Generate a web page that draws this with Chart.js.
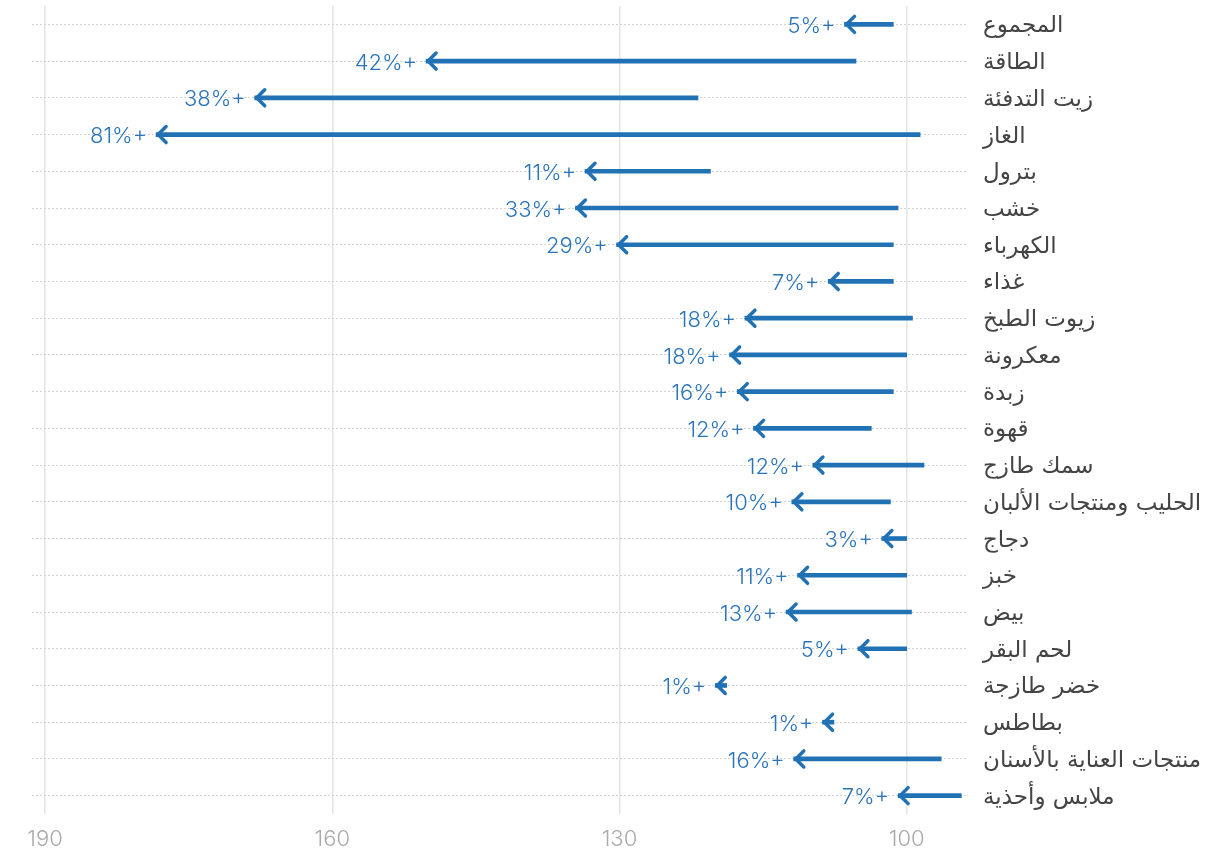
<!DOCTYPE html>
<html>
<head>
<meta charset="utf-8">
<script src="https://cdn.jsdelivr.net/npm/chart.js@4/dist/chart.umd.min.js"></script>
<style>
  html, body { margin: 0; padding: 0; background: #fff; }
  #wrap { width: 1220px; height: 860px; position: relative; }
</style>
</head>
<body>
<div id="wrap"><canvas id="priceChart"></canvas></div>
<script>
// Categories & index values (start -> end)
var categories = [
  'المجموع', 'الطاقة', 'زيت التدفئة', 'الغاز', 'بترول', 'خشب', 'الكهرباء',
  'غذاء', 'زيوت الطبخ', 'معكرونة', 'زبدة', 'قهوة', 'سمك طازج',
  'الحليب ومنتجات الألبان', 'دجاج', 'خبز', 'بيض', 'لحم البقر', 'خضر طازجة',
  'بطاطس', 'منتجات العناية بالأسنان', 'ملابس وأحذية'
];
var startValues = [101.4, 105.3, 121.8, 98.6, 120.5, 100.9, 101.4, 101.4, 99.4, 100, 101.4,
  103.7, 98.2, 101.7, 100, 100, 99.5, 100, 118.8, 107.6, 96.4, 94.3];
var endValues = [106.5, 150.2, 168.1, 178.4, 133.6, 134.6, 130.3, 108.2, 116.9, 118.5, 117.7,
  116.0, 109.8, 112.0, 102.6, 111.4, 112.6, 105.1, 120.0, 108.8, 111.8, 100.9];
var pctLabels = [5, 42, 38, 81, 11, 33, 29, 7, 18, 18, 16, 12, 12, 10, 3, 11, 13, 5, 1, 1, 16, 7];
var xTicks = [190, 160, 130, 100];

var blue = '#2171b5';

// arrow heads + percent labels
var arrowPlugin = {
  id: 'arrows',
  afterDatasetsDraw: function (chart) {
    var ctx = chart.ctx;
    var xs = chart.scales.x;
    var ys = chart.scales.y;
    ctx.save();
    ctx.strokeStyle = blue;
    ctx.lineWidth = 3.5;
    ctx.lineCap = 'round';
    ctx.lineJoin = 'miter';
    categories.forEach(function (c, i) {
      var tip = xs.getPixelForValue(endValues[i]);
      var yc = ys.getPixelForValue(i);
      ctx.beginPath();
      ctx.moveTo(tip + 10, yc - 8);
      ctx.lineTo(tip + 2, yc);
      ctx.lineTo(tip + 10, yc + 8);
      ctx.stroke();

      ctx.fillStyle = '#2a74ba';
      ctx.font = '300 22px Inter, "DejaVu Sans", sans-serif';
      ctx.textAlign = 'right';
      ctx.textBaseline = 'middle';
      ctx.fillText(pctLabels[i] + '%+', tip - 9, yc + 2);
    });
    ctx.restore();
  }
};

var chart = new Chart(document.getElementById('priceChart'), {
  type: 'bar',
  data: {
    labels: categories,
    datasets: [
      {
        data: categories.map(function (c, i) { return [startValues[i], endValues[i]]; }),
        backgroundColor: blue,
        barThickness: 4,
        borderWidth: 0,
        borderSkipped: false,
      },
    ],
  },
  options: {
    indexAxis: 'y',
    responsive: true,
    maintainAspectRatio: false,
    animation: false,
    layout: { padding: { left: 32, top: 6, right: 0, bottom: 0 } },
    plugins: {
      legend: { display: false },
      tooltip: { enabled: false },
    },
    scales: {
      x: {
        reverse: true,
        min: 93.6,
        max: 191.36,
        afterBuildTicks: function (axis) {
          axis.ticks = xTicks.map(function (v) { return { value: v }; });
        },
        afterFit: function (axis) {
          axis.height = 46;
          axis.paddingLeft = 0;
          axis.paddingRight = 0;
        },
        grid: { color: '#e4e4e4', lineWidth: 1.5, drawTicks: false },
        border: { display: false },
        ticks: {
          padding: 12,
          color: '#aaaaaa',
          font: { family: 'Inter, "DejaVu Sans", sans-serif', size: 22, weight: 300 },
        },
      },
      y: {
        position: 'right',
        afterFit: function (axis) {
          axis.width = 252;
          axis.paddingTop = 0;
          axis.paddingBottom = 0;
        },
        grid: { offset: false, color: '#d2d2d2', lineWidth: 1, drawTicks: false },
        border: { display: false, dash: [2, 2] },
        ticks: {
          padding: 15,
          labelOffset: 2,
          color: '#444444',
          font: { family: '"DejaVu Sans", sans-serif', size: 23 },
        },
      },
    },
  },
  plugins: [arrowPlugin],
});
</script>
</body>
</html>
